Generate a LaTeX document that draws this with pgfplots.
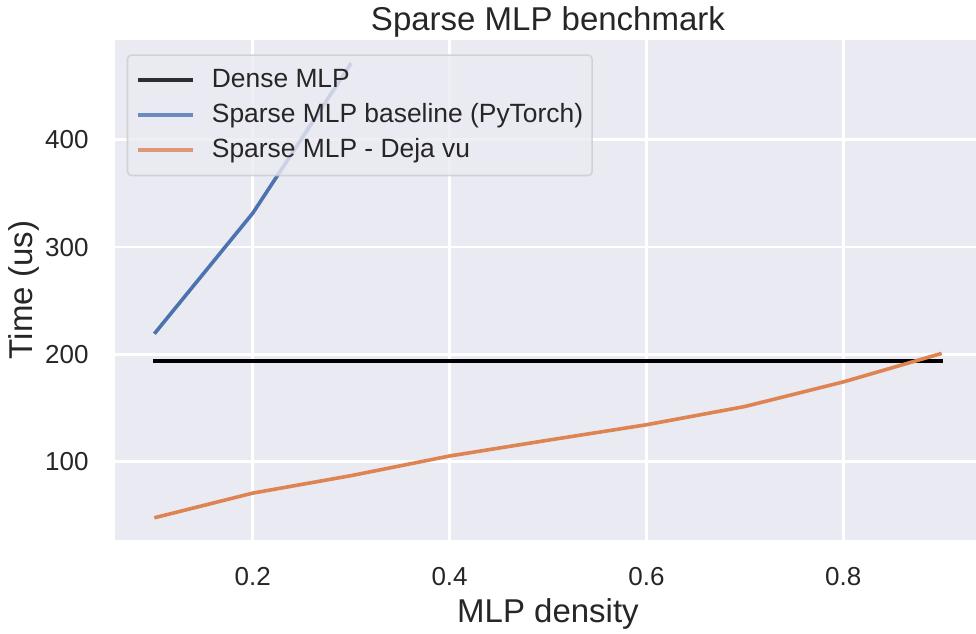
\documentclass[border=0pt]{standalone}
\usepackage{pgfplots}
\pgfplotsset{compat=1.18}
\usepackage{fontspec}
\setmainfont{Liberation Sans}
\definecolor{bg}{HTML}{EAEAF2}
\definecolor{sbblue}{HTML}{4C72B0}
\definecolor{sborange}{HTML}{DD8452}
\definecolor{txt}{HTML}{262626}
\definecolor{legedge}{HTML}{CCCCCC}
\begin{document}
\begin{tikzpicture}
\useasboundingbox (0pt,0pt) rectangle (488pt,316.5pt);
\begin{axis}[
  at={(57.5pt,46.5pt)}, anchor=south west,
  scale only axis, width=433pt, height=250pt,
  xmin=0.06, xmax=0.94, ymin=27, ymax=493,
  axis background/.style={fill=bg},
  axis line style={draw=none},
  grid=major, major grid style={white, line width=1.35pt},
  major tick length=0pt,
  xtick={0.2,0.4,0.6,0.8}, ytick={100,200,300,400},
  xticklabels={0.2,0.4,0.6,0.8},
  /pgf/number format/assume math mode=true,
  tick label style={font=\fontsize{13}{15.6}\selectfont, text=txt},
  xticklabel style={anchor=north, inner sep=0pt, yshift=-13.5pt},
  yticklabel style={anchor=east, inner sep=0pt, xshift=-13pt},
  xlabel={MLP density}, ylabel={Time (us)},
  title={Sparse MLP benchmark},
  every axis title/.style={font=\fontsize{16.5}{19.8}\selectfont, text=txt, at={(axis description cs:0.5,1.018)}, anchor=base, inner sep=0pt},
  every axis x label/.style={font=\fontsize{16.5}{19.8}\selectfont, text=txt, at={(axis description cs:0.5,-0.164)}, anchor=base, inner sep=0pt},
  every axis y label/.style={font=\fontsize{16.5}{19.8}\selectfont, text=txt, at={(axis description cs:-0.0958,0.5)}, rotate=90, anchor=base, inner sep=0pt},
  legend style={at={(axis description cs:0.0135,0.9714)}, anchor=north west,
    draw=legedge, line width=0.8pt, fill=bg, fill opacity=0.8, draw opacity=0.8, text opacity=1,
    rounded corners=2pt, font=\fontsize{13.2}{15.8}\selectfont, text=txt,
    inner xsep=4.5pt, inner ysep=6.4pt, row sep=5.1pt,
    nodes={inner sep=0pt, text height=9.6pt, text depth=2.8pt},
    /tikz/every odd column/.append style={column sep=8.4pt},
    /tikz/every even column/.append style={column sep=1.5pt}},
  legend cell align=left,
  legend image code/.code={\draw[#1, line cap=butt] (0pt,0pt) -- (27.5pt,0pt);},
  every axis plot/.append style={line width=1.8pt, line join=round},
]
\addplot[black, line cap=rect] coordinates {(0.1,193.8) (0.2,193.8) (0.3,193.8) (0.4,193.8) (0.5,193.8) (0.6,193.8) (0.7,193.8) (0.8,193.8) (0.9,193.8)};
\addlegendentry{Dense MLP}
\addplot[sbblue] coordinates {(0.1,219.2) (0.2,331.6) (0.3,471.4)};
\addlegendentry{Sparse MLP baseline (PyTorch)}
\addplot[sborange] coordinates {(0.1,47.7) (0.2,70.7) (0.3,87.0) (0.4,105.3) (0.5,120.0) (0.6,134.4) (0.7,151.4) (0.8,174.3) (0.9,200.9)};
\addlegendentry{Sparse MLP - Deja vu}
\end{axis}
\end{tikzpicture}
\end{document}
